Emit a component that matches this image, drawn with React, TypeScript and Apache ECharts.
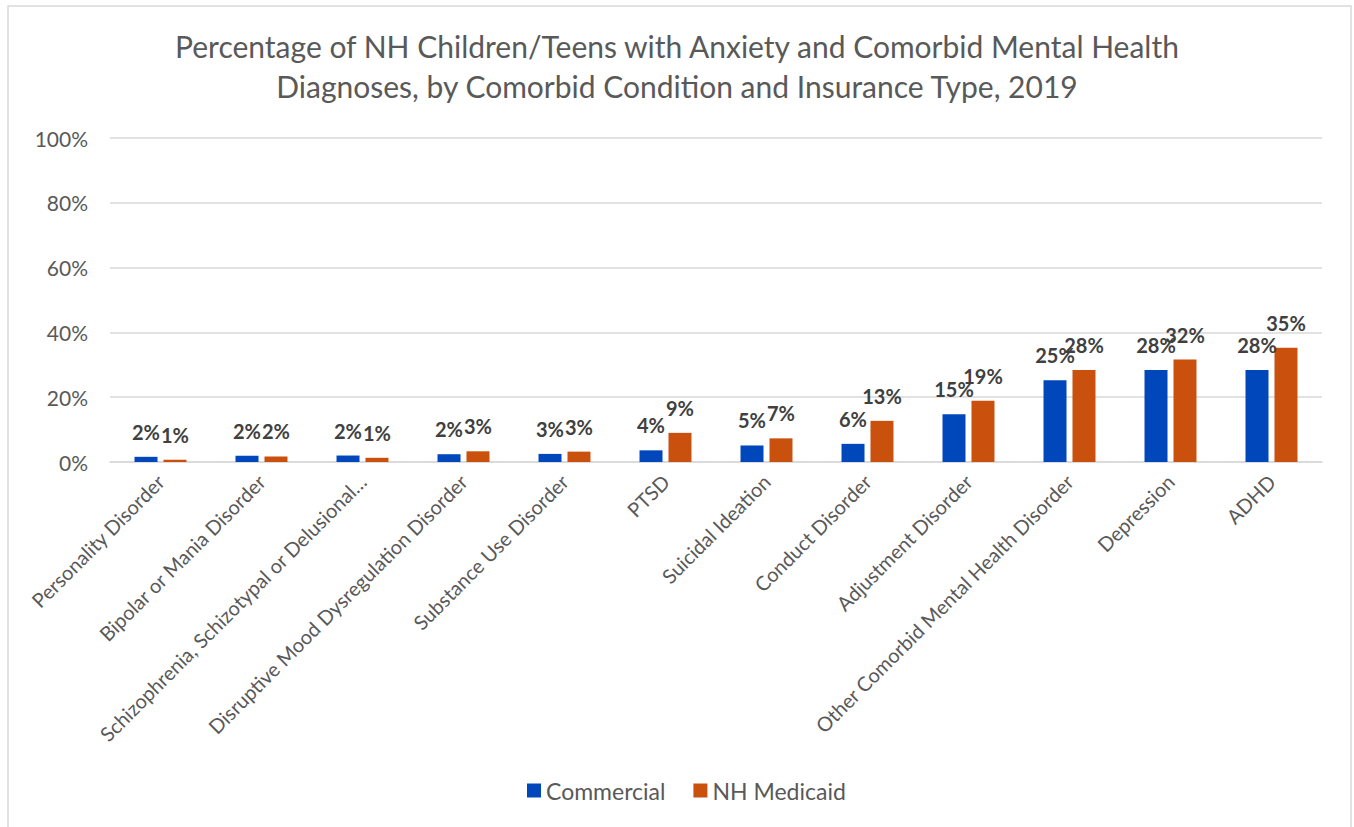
import React, { useEffect, useRef } from "react";
import * as echarts from "echarts";

const categories = [
  "Personality Disorder",
  "Bipolar or Mania Disorder",
  "Schizophrenia, Schizotypal or Delusional…",
  "Disruptive Mood Dysregulation Disorder",
  "Substance Use Disorder",
  "PTSD",
  "Suicidal Ideation",
  "Conduct Disorder",
  "Adjustment Disorder",
  "Other Comorbid Mental Health Disorder",
  "Depression",
  "ADHD",
];
const commercial = [1.6, 1.9, 2.0, 2.4, 2.5, 3.6, 5.1, 5.6, 14.7, 25.2, 28.4, 28.4];
const medicaid = [0.7, 1.7, 1.3, 3.3, 3.2, 9.0, 7.3, 12.7, 18.9, 28.4, 31.6, 35.3];
const yTicks = [0, 20, 40, 60, 80, 100];
const seriesNames = ["Commercial", "NH Medicaid"];
const titleText =
  "Percentage of NH Children/Teens with Anxiety and Comorbid Mental Health\nDiagnoses, by Comorbid Condition and Insurance Type, 2019";

const FONT = "'Source Sans Pro', Lato, sans-serif";
const GRAY = "#595959";

export default function App() {
  const ref = useRef<HTMLDivElement>(null);
  useEffect(() => {
    const chart = echarts.init(ref.current!, null, { renderer: "svg" });
    const labelCfg = {
      show: true,
      position: "top" as const,
      distance: 15,
      formatter: (p: any) => Math.round(p.value) + "%",
      fontFamily: FONT,
      fontWeight: "bold" as const,
      fontSize: 20,
      color: "#404040",
    };
    chart.setOption({
      animation: false,
      textStyle: { fontFamily: FONT },
      graphic: [
        {
          type: "rect",
          shape: { x: 8, y: 6, width: 1343, height: 900 },
          style: { fill: "none", stroke: "#d9d9d9", lineWidth: 1.5 },
          silent: true,
        },
      ],
      title: {
        text: titleText,
        left: "center",
        top: 21,
        textStyle: {
          fontFamily: FONT,
          fontWeight: "normal",
          fontSize: 30,
          lineHeight: 40,
          color: GRAY,
        },
      },
      legend: {
        data: seriesNames,
        bottom: 20,
        left: 522,
        itemWidth: 14,
        itemHeight: 14,
        itemGap: 28,
        icon: "rect",
        textStyle: { fontFamily: FONT, fontSize: 23, color: GRAY },
      },
      grid: { left: 110, right: 32, top: 138, bottom: 365 },
      xAxis: {
        type: "category",
        data: categories,
        axisLine: { lineStyle: { color: "#d9d9d9", width: 1.5 } },
        axisTick: { show: false },
        axisLabel: {
          interval: 0,
          rotate: 45,
          margin: 16,
          fontFamily: FONT,
          fontSize: 20,
          color: GRAY,
        },
      },
      yAxis: {
        type: "value",
        min: 0,
        max: yTicks[yTicks.length - 1],
        interval: 20,
        axisLabel: {
          formatter: (v: number) => v + "%",
          margin: 22,
          fontFamily: FONT,
          fontSize: 21,
          color: GRAY,
        },
        splitLine: { lineStyle: { color: "#d9d9d9", width: 1.5 } },
        axisLine: { show: false },
        axisTick: { show: false },
      },
      series: [
        {
          name: seriesNames[0],
          type: "bar",
          data: commercial,
          barWidth: 23,
          barGap: "26%",
          itemStyle: { color: "#0047BB" },
          label: labelCfg,
        },
        {
          name: seriesNames[1],
          type: "bar",
          data: medicaid,
          barWidth: 23,
          barGap: "26%",
          itemStyle: { color: "#C9500D" },
          label: labelCfg,
        },
      ],
    });
    return () => chart.dispose();
  }, []);
  return (
    <div
      ref={ref}
      style={{ position: "absolute", left: 0, top: 0, width: 1354, height: 827, background: "#fff" }}
    />
  );
}
